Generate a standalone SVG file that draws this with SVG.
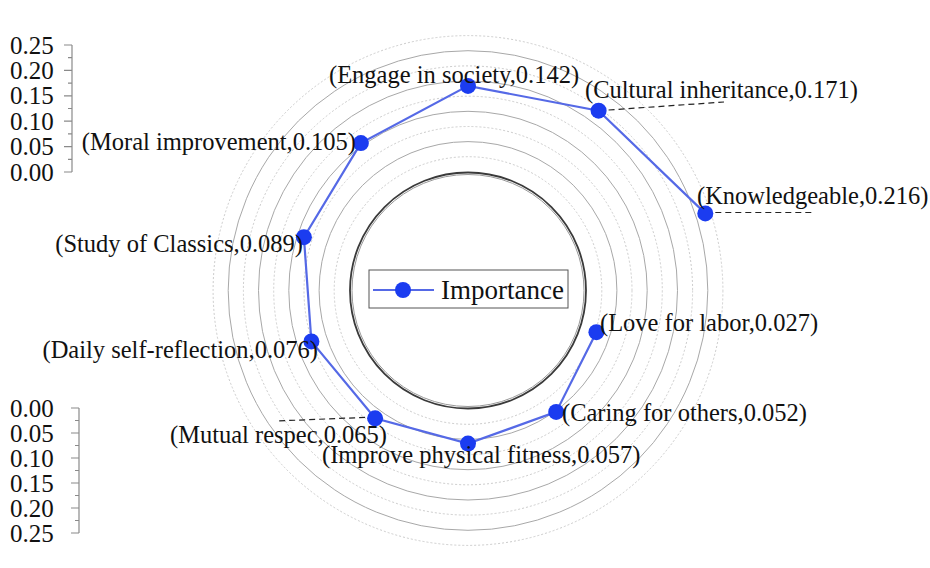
<svg xmlns="http://www.w3.org/2000/svg" width="930" height="568" viewBox="0 0 930 568" font-family="'Liberation Serif','Times New Roman',serif">
<style>
text{font-family:"Liberation Serif","Times New Roman",serif;fill:#111}
.lbl{font-size:24.5px}
.tick{font-size:25px}
.ring{fill:none;stroke:#a8a8a8;stroke-width:1}
.dring{fill:none;stroke:#cccccc;stroke-width:1;stroke-dasharray:2 2}
.ax{fill:none;stroke:#8a8a8a;stroke-width:1.2}
.lead{fill:none;stroke:#222;stroke-width:1.2;stroke-dasharray:6 4}
.pt{fill:#1b3cf0}
</style>
<rect width="930" height="568" fill="#fff"/>
<g id="rings">
<circle class="dring" cx="468" cy="290.5" r="133.8"/>
<circle class="ring" cx="468" cy="290.5" r="148.9"/>
<circle class="dring" cx="468" cy="290.5" r="164"/>
<circle class="ring" cx="468" cy="290.5" r="179.2"/>
<circle class="dring" cx="468" cy="290.5" r="194.3"/>
<circle class="ring" cx="468" cy="290.5" r="209.5"/>
<circle class="dring" cx="468" cy="290.5" r="224.6"/>
<circle class="ring" cx="468" cy="290.5" r="239.8"/>
<circle class="dring" cx="468" cy="290.5" r="254.9"/>
<circle cx="468" cy="290.5" r="116" fill="none" stroke="#999" stroke-width="1"/>
<circle cx="468" cy="290.5" r="118" fill="none" stroke="#3a3a3a" stroke-width="1.8"/>
</g>
<g id="axis-top">
<path class="ax" d="M72 45V172M64 45H72M64 70.4H72M64 95.8H72M64 121.2H72M64 146.6H72M64 172H72M68 57.7H72M68 83.1H72M68 108.5H72M68 133.9H72M68 159.3H72"/>
<text class="tick" x="10" y="53.5">0.25</text>
<text class="tick" x="10" y="78.9">0.20</text>
<text class="tick" x="10" y="104.3">0.15</text>
<text class="tick" x="10" y="129.7">0.10</text>
<text class="tick" x="10" y="155.1">0.05</text>
<text class="tick" x="10" y="180.5">0.00</text>
</g>
<g id="axis-bottom">
<path class="ax" d="M79 408V533M71 408H79M71 433H79M71 458H79M71 483H79M71 508H79M71 533H79M75 420.5H79M75 445.5H79M75 470.5H79M75 495.5H79M75 520.5H79"/>
<text class="tick" x="10" y="416.5">0.00</text>
<text class="tick" x="10" y="441.5">0.05</text>
<text class="tick" x="10" y="466.5">0.10</text>
<text class="tick" x="10" y="491.5">0.15</text>
<text class="tick" x="10" y="516.5">0.20</text>
<text class="tick" x="10" y="541.5">0.25</text>
</g>
<g id="connectors">
<polyline fill="none" stroke="#5569e6" stroke-width="2.2" points="596.4,332.2 556.2,411.9 468,443.6 375.1,418.3 311.4,341.4 303.9,237.2 360.9,143.1 468,85.9 598.6,110.7 705.3,213.4"/>
<path class="lead" d="M598.6 110.7L724 102M705.3 212.5H815M375.1 417L276 421"/>
</g>
<g id="n-engage"><circle class="pt" cx="468" cy="85.9" r="8"/><text class="lbl" x="329" y="83">(Engage in society,0.142)</text></g>
<g id="n-cultural"><circle class="pt" cx="598.6" cy="110.7" r="8"/><text class="lbl" x="585" y="98">(Cultural inheritance,0.171)</text></g>
<g id="n-knowledgeable"><circle class="pt" cx="705.3" cy="213.4" r="8"/><text class="lbl" x="697" y="204">(Knowledgeable,0.216)</text></g>
<g id="n-labor"><circle class="pt" cx="596.4" cy="332.2" r="8"/><text class="lbl" x="600" y="331">(Love for labor,0.027)</text></g>
<g id="n-caring"><circle class="pt" cx="556.2" cy="411.9" r="8"/><text class="lbl" x="562" y="421">(Caring for others,0.052)</text></g>
<g id="n-fitness"><circle class="pt" cx="468" cy="443.6" r="8"/><text class="lbl" x="322" y="463">(Improve physical fitness,0.057)</text></g>
<g id="n-mutual"><circle class="pt" cx="375.1" cy="418.3" r="8"/><text class="lbl" x="387" y="443" text-anchor="end">(Mutual respec,0.065)</text></g>
<g id="n-daily"><circle class="pt" cx="311.4" cy="341.4" r="8"/><text class="lbl" x="318" y="358" text-anchor="end">(Daily self-reflection,0.076)</text></g>
<g id="n-classics"><circle class="pt" cx="303.9" cy="237.2" r="8"/><text class="lbl" x="303" y="252" text-anchor="end">(Study of Classics,0.089)</text></g>
<g id="n-moral"><circle class="pt" cx="360.9" cy="143.1" r="8"/><text class="lbl" x="356" y="150" text-anchor="end">(Moral improvement,0.105)</text></g>
<g id="legend">
<rect x="369" y="270" width="199" height="38" fill="#fff" stroke="#555" stroke-width="1"/>
<line x1="373" y1="290" x2="434" y2="290" stroke="#5569e6" stroke-width="2.2"/>
<circle class="pt" cx="403" cy="290" r="8"/>
<text x="441" y="299" font-size="27">Importance</text>
</g>
</svg>
